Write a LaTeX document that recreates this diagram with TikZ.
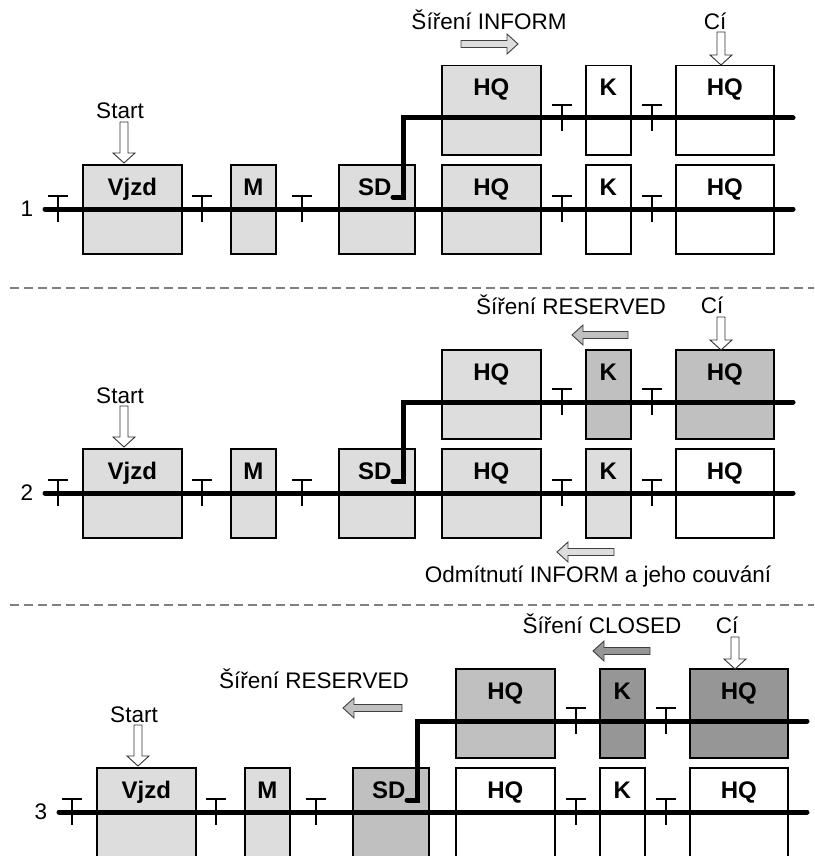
\documentclass[tikz,border=0pt]{standalone}
\usepackage{fontspec}
\setmainfont{Liberation Sans}
\definecolor{lg}{HTML}{DDDDDD}
\definecolor{mg}{HTML}{C0C0C0}
\definecolor{dg}{HTML}{969696}
\tikzset{
  box/.style={draw=black, line width=1.5pt, anchor=north west, inner sep=0pt, minimum height=89pt},
  blabel/.style={font=\fontsize{24}{28}\selectfont\bfseries, anchor=base, inner sep=0pt},
  txt/.style={font=\fontsize{22.5}{27}\selectfont, anchor=base, inner sep=0pt},
  track/.style={line width=5pt, line cap=round, line join=miter},
  sigl/.style={line width=1.5pt},
  harr/.style={draw=black!75, line width=0.9pt},
  sepline/.style={draw=black!50, line width=1.2pt, dash pattern=on 9pt off 5pt},
}
\newcommand\downarr[3]{\draw[fill=white, draw=black!80, line width=0.9pt]
  ({#1-4},#2) -- ({#1+4},#2) -- ({#1+4},{#3-10}) -- ({#1+11},{#3-10}) -- (#1,#3)
  -- ({#1-11},{#3-10}) -- ({#1-4},{#3-10}) -- cycle;}
\newcommand\hzarrow[4]{\pgfmathsetmacro\hx{#2-11*sign(#2-#1)}%
  \draw[harr, fill=#4] (#1,{#3-3.5}) -- (\hx,{#3-3.5}) -- (\hx,{#3-10}) -- (#2,#3)
  -- (\hx,{#3+10}) -- (\hx,{#3+3.5}) -- (#1,{#3+3.5}) -- cycle;}
\newcommand\sigpost[3]{\coordinate (#1) at (#2,#3);
  \draw[sigl] (#1) ++(-10,-13) -- ++(20,0) (#1) ++(0,-13) -- ++(0,26);}
\newcommand\trackpanel[2]{%
  \node[box,fVj,minimum width=99pt] (#1vjzd) at (82,164) {};
  \node[box,fM,minimum width=45pt] (#1m) at (230,164) {};
  \node[box,fSD,minimum width=76pt] (#1sd) at (338,164) {};
  \node[box,fHa,minimum width=99pt] (#1hqa) at (441,164) {};
  \node[box,fKa,minimum width=45pt] (#1ka) at (585,164) {};
  \node[box,fHb,minimum width=98pt] (#1hqb) at (675,164) {};
  \node[box,fHc,minimum width=99pt] (#1hqc) at (441,65) {};
  \node[box,fKc,minimum width=45pt] (#1kc) at (585,65) {};
  \node[box,fHd,minimum width=98pt] (#1hqd) at (675,65) {};
  \path (#1vjzd.north) ++(0,31) node[blabel] (#1vjzdt) {Vjzd};
  \path (#1m.north) ++(0,31) node[blabel] (#1mt) {M};
  \path (#1sd.north) ++(-2,31) node[blabel] (#1sdt) {SD};
  \path (#1hqa.north) ++(0,31) node[blabel] (#1hqat) {HQ};
  \path (#1ka.north) ++(0,31) node[blabel] (#1kat) {K};
  \path (#1hqb.north) ++(0,31) node[blabel] (#1hqbt) {HQ};
  \path (#1hqc.north) ++(0,31) node[blabel] (#1hqct) {HQ};
  \path (#1kc.north) ++(0,31) node[blabel] (#1kct) {K};
  \path (#1hqd.north) ++(0,31) node[blabel] (#1hqdt) {HQ};
  \coordinate (#1w) at (45,209);
  \coordinate (#1e) at (793,209);
  \coordinate (#1h) at (393,197);
  \coordinate (#1v) at (403,118);
  \coordinate (#1ue) at (793,118);
  \draw[track] (#1w) -- (#1e);
  \draw[track] (#1h) -- (#1h -| #1v) -- (#1v) -- (#1ue);
  \sigpost{#1sa}{58}{209}
  \sigpost{#1sb}{202}{209}
  \sigpost{#1sc}{302}{209}
  \sigpost{#1sd2}{562}{209}
  \sigpost{#1se}{652}{209}
  \sigpost{#1sf}{562}{118}
  \sigpost{#1sg}{652}{118}
  \node[txt] (#1num) at (27,216) {#2};
  \downarr{124}{122}{163}
  \node[txt] (#1start) at (120,119) {Start};
}
\begin{document}
\begin{tikzpicture}[x=1pt,y=-1pt]
\useasboundingbox (0,0) rectangle (814,856);
\clip (0,0) rectangle (814,856);
% panel 1
\begin{scope}[fVj/.style={fill=lg}, fM/.style={fill=lg}, fSD/.style={fill=lg},
  fHa/.style={fill=lg}, fKa/.style={fill=white}, fHb/.style={fill=white},
  fHc/.style={fill=lg}, fKc/.style={fill=white}, fHd/.style={fill=white}]
\trackpanel{A}{1}
\end{scope}
\hzarrow{461}{518}{44}{lg}
\node[txt] (inf1) at (489,30) {Šíření INFORM};
\downarr{721}{32}{65}
\node[txt] (ci1) at (715,30) {Cí};
% separator
\coordinate (s1a) at (10,288);
\coordinate (s1b) at (814,288);
\draw[sepline] (s1a) -- (s1b);
% panel 2
\begin{scope}[shift={(0,284)}, fVj/.style={fill=lg}, fM/.style={fill=lg}, fSD/.style={fill=lg},
  fHa/.style={fill=lg}, fKa/.style={fill=lg}, fHb/.style={fill=white},
  fHc/.style={fill=lg}, fKc/.style={fill=mg}, fHd/.style={fill=mg}]
\trackpanel{B}{2}
\end{scope}
\hzarrow{628}{572}{335}{mg}
\node[txt] (res2) at (571,314) {Šíření RESERVED};
\downarr{721}{317}{350}
\node[txt] (ci2) at (712,313) {Cí};
\hzarrow{614}{557}{552}{lg}
\node[txt] (odm) at (598,582) {Odmítnutí INFORM a jeho couvání};
% separator
\coordinate (s2a) at (10,605);
\coordinate (s2b) at (814,605);
\draw[sepline] (s2a) -- (s2b);
% panel 3
\begin{scope}[shift={(14,603)}, fVj/.style={fill=lg}, fM/.style={fill=lg}, fSD/.style={fill=mg},
  fHa/.style={fill=white}, fKa/.style={fill=white}, fHb/.style={fill=white},
  fHc/.style={fill=mg}, fKc/.style={fill=dg}, fHd/.style={fill=dg}]
\trackpanel{C}{3}
\end{scope}
\hzarrow{650}{593}{651}{dg}
\node[txt] (clo3) at (602,633) {Šíření CLOSED};
\downarr{735}{637}{669}
\node[txt] (ci3) at (727,633) {Cí};
\hzarrow{402}{343}{708}{mg}
\node[txt] (res3) at (314,688) {Šíření RESERVED};
\end{tikzpicture}
\end{document}
